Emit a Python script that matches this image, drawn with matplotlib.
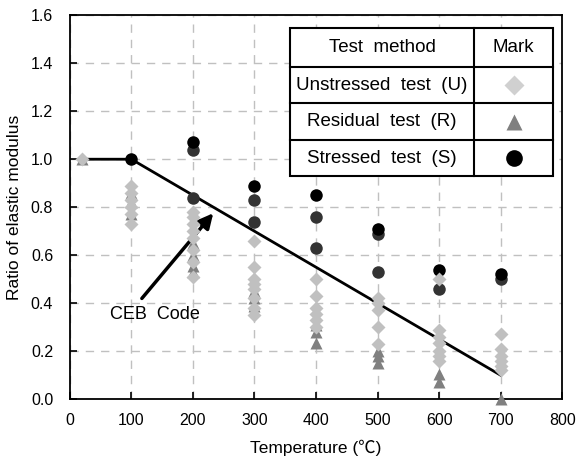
import matplotlib.pyplot as plt
from matplotlib.patches import Rectangle

plt.rcParams['font.family'] = ['Liberation Sans', 'Noto Sans CJK KR', 'DejaVu Sans']

# test temperatures (deg C) and measured ratios per temperature
temps = [20, 100, 200, 300, 400, 500, 600, 700]
unstressed = [
    [1.0],
    [0.89, 0.86, 0.83, 0.80, 0.77, 0.73],
    [0.78, 0.76, 0.73, 0.70, 0.67, 0.62, 0.57, 0.51],
    [0.66, 0.55, 0.50, 0.48, 0.46, 0.42, 0.38, 0.35],
    [0.50, 0.43, 0.38, 0.355, 0.33, 0.30],
    [0.42, 0.40, 0.37, 0.30, 0.23],
    [0.50, 0.29, 0.26, 0.235, 0.20, 0.18, 0.16],
    [0.27, 0.21, 0.18, 0.16, 0.14, 0.12],
]
residual = [
    [1.0],
    [0.86, 0.82, 0.77],
    [0.65, 0.60, 0.555, 0.53],
    [0.45, 0.42, 0.39],
    [0.31, 0.28, 0.235],
    [0.20, 0.18, 0.15],
    [0.105, 0.07],
    [0.0],
]
stressed_dark = [
    [],
    [],
    [1.04, 0.84],
    [0.83, 0.74],
    [0.76, 0.63],
    [0.69, 0.53],
    [0.46],
    [0.50],
]
stressed_black = [[], [1.0], [1.07], [0.89], [0.85], [0.71], [0.54], [0.52]]

# CEB code curve
ceb_T = [20, 100, 700]
ceb_ratio = [1.0, 1.0, 0.1]


def flatten(groups):
    xs, ys = [], []
    for t, vals in zip(temps, groups):
        xs += [t] * len(vals)
        ys += vals
    return xs, ys


c_u = "#c0c0c0"
c_r = "#808080"
c_sd = "#333333"
c_sb = "#000000"

fig = plt.figure(figsize=(5.82, 4.61), dpi=100)
ax = fig.add_axes([0.120, 0.134, 0.846, 0.833])

ax.plot(ceb_T, ceb_ratio, color="black", lw=2, zorder=2)

x, y = flatten(residual)
ax.plot(x, y, "^", color=c_r, ms=9, mec="none", zorder=3, clip_on=False)
x, y = flatten(stressed_dark)
ax.plot(x, y, "o", color=c_sd, ms=9, mec="none", zorder=4)
x, y = flatten(stressed_black)
ax.plot(x, y, "o", color=c_sb, ms=9, mec="none", zorder=4.5)
x, y = flatten(unstressed)
ax.plot(x, y, "D", color=c_u, ms=7.5, mec="none", zorder=5)

ax.annotate("", xy=(233, 0.775), xytext=(117, 0.42),
            arrowprops=dict(arrowstyle="-|>", color="black", lw=2.5,
                            mutation_scale=22, shrinkA=0, shrinkB=0))
ax.text(138, 0.355, "CEB  Code", fontsize=13, ha="center", va="center")

ax.set_xlim(0, 800)
ax.set_ylim(0, 1.6)
ax.set_xticks(range(0, 801, 100))
ax.set_yticks([0, 0.2, 0.4, 0.6, 0.8, 1.0, 1.2, 1.4, 1.6])
ax.set_yticklabels([f"{v:.1f}" for v in ax.get_yticks()])
ax.tick_params(direction="in", length=5, width=1.2, labelsize=11.5)
ax.tick_params(axis="x", pad=10)
ax.tick_params(axis="y", pad=12)
ax.grid(True, color="#c0c0c0", linestyle=(0, (6, 5)), lw=1)
ax.set_axisbelow(True)
for s in ax.spines.values():
    s.set_linewidth(1.3)

ax.set_xlabel("Temperature (℃)", fontsize=12.5, labelpad=8)
ax.set_ylabel("Ratio of elastic modulus", fontsize=12.5, labelpad=6)

# table-style legend
L, R, C = 0.447, 0.982, 0.821
rows = [0.966, 0.865, 0.771, 0.674, 0.581]
ax.add_patch(Rectangle((L, rows[-1]), R - L, rows[0] - rows[-1], transform=ax.transAxes,
                       fc="white", ec="black", lw=1.5, zorder=10))
for r in rows[1:-1]:
    ax.plot([L, R], [r, r], color="black", lw=1.5, transform=ax.transAxes, zorder=11)
ax.plot([C, C], [rows[0], rows[-1]], color="black", lw=1.5, transform=ax.transAxes, zorder=11)

names = ["Test  method", "Unstressed  test  (U)", "Residual  test  (R)", "Stressed  test  (S)"]
for i, name in enumerate(names):
    ym = (rows[i] + rows[i + 1]) / 2
    ax.text((L + C) / 2, ym, name, fontsize=13.5, ha="center", va="center",
            transform=ax.transAxes, zorder=12)
ax.text((C + R) / 2, (rows[0] + rows[1]) / 2, "Mark", fontsize=13.5, ha="center",
        va="center", transform=ax.transAxes, zorder=12)
mx = (C + R) / 2
ax.plot(mx, (rows[1] + rows[2]) / 2, "D", color="#d0d0d0", ms=10, mec="none",
        transform=ax.transAxes, zorder=12)
ax.plot(mx, (rows[2] + rows[3]) / 2, "^", color=c_r, ms=11, mec="none",
        transform=ax.transAxes, zorder=12)
ax.plot(mx, (rows[3] + rows[4]) / 2, "o", color="black", ms=12, mec="none",
        transform=ax.transAxes, zorder=12)

fig.savefig("out.png", dpi=100)
